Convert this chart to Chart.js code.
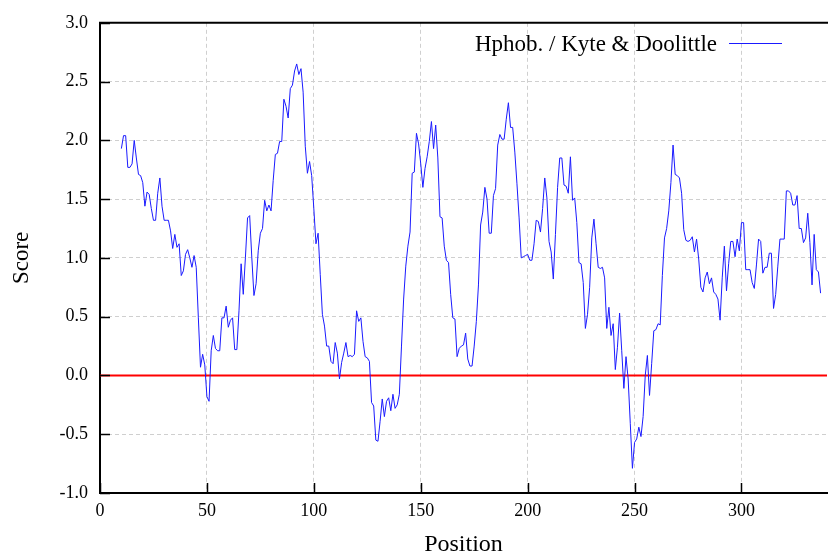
<!DOCTYPE html>
<html>
<head>
<meta charset="utf-8">
<style>
  html, body { margin: 0; padding: 0; background: #ffffff; }
  #wrap { width: 828px; height: 557px; }
  canvas { display: block; }
</style>
<script src="https://cdn.jsdelivr.net/npm/chart.js@4.4.1/dist/chart.umd.min.js"></script>
</head>
<body>
<div id="wrap"><canvas id="c" width="828" height="557"></canvas></div>
<script>
// ---- data ----
const seriesLabel = "Hphob. / Kyte & Doolittle";
const xTitle = "Position";
const yTitle = "Score";
const firstPosition = 10;
const scores = [
  1.93, 2.04, 2.04, 1.77, 1.77, 1.80, 2.00, 1.85, 1.71, 1.70,
  1.64, 1.44, 1.56, 1.54, 1.42, 1.32, 1.32, 1.55, 1.68, 1.44,
  1.32, 1.32, 1.32, 1.23, 1.08, 1.20, 1.09, 1.12, 0.85, 0.89,
  1.03, 1.07, 1.00, 0.92, 1.02, 0.92, 0.49, 0.07, 0.18, 0.09,
  -0.18, -0.22, 0.21, 0.34, 0.23, 0.21, 0.21, 0.49, 0.49, 0.59,
  0.41, 0.47, 0.49, 0.22, 0.22, 0.55, 0.95, 0.69, 1.00, 1.34,
  1.36, 1.00, 0.68, 0.78, 1.06, 1.21, 1.25, 1.49, 1.40, 1.45,
  1.40, 1.66, 1.88, 1.89, 1.99, 1.99, 2.35, 2.29, 2.19, 2.44,
  2.47, 2.59, 2.65, 2.56, 2.61, 2.41, 1.95, 1.72, 1.82, 1.70,
  1.42, 1.12, 1.21, 0.86, 0.52, 0.42, 0.25, 0.25, 0.12, 0.10,
  0.28, 0.19, -0.03, 0.11, 0.19, 0.28, 0.16, 0.17, 0.16, 0.18,
  0.55, 0.46, 0.49, 0.29, 0.16, 0.15, 0.12, -0.23, -0.26, -0.55,
  -0.56, -0.39, -0.20, -0.35, -0.22, -0.19, -0.30, -0.16, -0.28, -0.25,
  -0.16, 0.25, 0.65, 0.93, 1.10, 1.22, 1.72, 1.73, 2.06, 1.97,
  1.80, 1.60, 1.76, 1.86, 1.99, 2.16, 1.93, 2.13, 1.85, 1.35,
  1.34, 1.10, 0.98, 0.96, 0.69, 0.49, 0.48, 0.16, 0.23, 0.25,
  0.26, 0.36, 0.14, 0.08, 0.08, 0.25, 0.46, 0.77, 1.28, 1.39,
  1.60, 1.50, 1.21, 1.21, 1.53, 1.59, 1.96, 2.05, 2.01, 2.01,
  2.18, 2.32, 2.11, 2.11, 1.90, 1.63, 1.34, 1.00, 1.01, 1.02,
  1.03, 0.98, 0.98, 1.12, 1.32, 1.31, 1.22, 1.42, 1.68, 1.51,
  1.14, 1.05, 0.82, 1.20, 1.60, 1.85, 1.85, 1.62, 1.61, 1.55,
  1.86, 1.49, 1.51, 1.30, 0.96, 0.95, 0.79, 0.40, 0.52, 0.75,
  1.17, 1.33, 1.12, 0.92, 0.91, 0.92, 0.83, 0.40, 0.58, 0.34,
  0.44, 0.05, 0.24, 0.53, 0.21, -0.11, 0.16, -0.03, -0.41, -0.79,
  -0.57, -0.54, -0.44, -0.52, -0.35, 0.00, 0.17, -0.17, 0.10, 0.38,
  0.39, 0.44, 0.43, 0.85, 1.17, 1.25, 1.40, 1.64, 1.96, 1.71,
  1.70, 1.68, 1.55, 1.24, 1.15, 1.14, 1.15, 1.18, 1.05, 1.16,
  0.99, 0.75, 0.71, 0.83, 0.88, 0.78, 0.83, 0.71, 0.69, 0.65,
  0.47, 0.83, 1.10, 0.72, 0.95, 1.14, 1.14, 1.01, 1.16, 1.06,
  1.30, 1.30, 0.90, 0.90, 0.90, 0.79, 0.74, 0.94, 1.16, 1.14,
  0.87, 0.92, 0.92, 1.04, 1.04, 0.57, 0.69, 0.93, 1.16, 1.16,
  1.16, 1.57, 1.57, 1.55, 1.45, 1.45, 1.53, 1.25, 1.25, 1.13,
  1.17, 1.38, 1.13, 0.77, 1.20, 0.90, 0.88, 0.70
];
const positions = scores.map((_, i) => firstPosition + i);
const zeroLineX = [0, 340];
const zeroLineY = [0, 0];
const xTickValues = [0, 50, 100, 150, 200, 250, 300];
const yTickValues = [-1.0, -0.5, 0.0, 0.5, 1.0, 1.5, 2.0, 2.5, 3.0];

// ---- build ----
const serif = "'Liberation Serif', 'Times New Roman', serif";
const lineColor = '#1a1aff';

const frameAndLegend = {
  id: 'frameAndLegend',
  afterDatasetsDraw(chart) {
    const { ctx, chartArea: a, scales } = chart;
    ctx.save();
    // top border
    ctx.strokeStyle = '#000';
    ctx.lineWidth = 2;
    ctx.beginPath();
    ctx.moveTo(a.left - 1, a.top);
    ctx.lineTo(a.right + 2, a.top);
    ctx.stroke();
    // inside tick marks
    ctx.lineWidth = 1.5;
    scales.y.ticks.forEach(t => {
      const y = Math.round(scales.y.getPixelForValue(t.value)) + 0.5;
      ctx.beginPath(); ctx.moveTo(a.left, y); ctx.lineTo(a.left + 10, y); ctx.stroke();
    });
    scales.x.ticks.forEach(t => {
      const x = Math.round(scales.x.getPixelForValue(t.value)) + 0.5;
      ctx.beginPath(); ctx.moveTo(x, a.bottom); ctx.lineTo(x, a.bottom - 10); ctx.stroke();
    });
    // legend
    ctx.font = "23px " + serif;
    ctx.fillStyle = '#000';
    ctx.textBaseline = 'alphabetic';
    ctx.textAlign = 'right';
    ctx.fillText(seriesLabel, 717, 51);
    ctx.strokeStyle = lineColor;
    ctx.lineWidth = 1;
    ctx.beginPath(); ctx.moveTo(729, 43.5); ctx.lineTo(782, 43.5); ctx.stroke();
    ctx.restore();
  }
};

new Chart(document.getElementById('c'), {
  type: 'line',
  data: {
    datasets: [
      {
        label: 'zero',
        data: zeroLineX.map((x, i) => ({ x: x, y: zeroLineY[i] })),
        borderColor: '#ff0000',
        borderWidth: 2,
        pointRadius: 0,
        tension: 0,
        order: 2
      },
      {
        label: seriesLabel,
        data: positions.map((p, i) => ({ x: p, y: scores[i] })),
        borderColor: lineColor,
        borderWidth: 1,
        pointRadius: 0,
        tension: 0,
        order: 1
      }
    ]
  },
  options: {
    responsive: false,
    animation: false,
    events: [],
    layout: { padding: { top: 20, right: 1, left: 0, bottom: 0 } },
    plugins: { legend: { display: false }, tooltip: { enabled: false } },
    scales: {
      x: {
        type: 'linear',
        min: 0,
        max: 340,
        afterBuildTicks: s => { s.ticks = xTickValues.map(v => ({ value: v })); },
        afterFit: s => { s.height = 64; },
        ticks: {
          autoSkip: false,
          maxRotation: 0,
          padding: 7,
          color: '#000',
          font: { family: serif, size: 18 },
          callback: v => String(v)
        },
        grid: { color: '#cfcfcf', lineWidth: 1, drawTicks: false },
        border: { display: true, color: '#000', width: 2, dash: [4, 3] },
        title: {
          display: true,
          text: xTitle,
          color: '#000',
          font: { family: serif, size: 24 },
          padding: { top: 0, bottom: -2 }
        }
      },
      y: {
        type: 'linear',
        min: -1,
        max: 3,
        afterBuildTicks: s => { s.ticks = yTickValues.map(v => ({ value: v })); },
        afterFit: s => { s.width = 100; },
        ticks: {
          autoSkip: false,
          padding: 12,
          color: '#000',
          font: { family: serif, size: 18 },
          callback: v => Number(v).toFixed(1)
        },
        grid: { color: '#cfcfcf', lineWidth: 1, drawTicks: false },
        border: { display: true, color: '#000', width: 2, dash: [4, 3] },
        title: {
          display: true,
          text: yTitle,
          color: '#000',
          font: { family: serif, size: 23 },
          padding: { top: 8, bottom: 0 }
        }
      }
    }
  },
  plugins: [frameAndLegend]
});
</script>
</body>
</html>
